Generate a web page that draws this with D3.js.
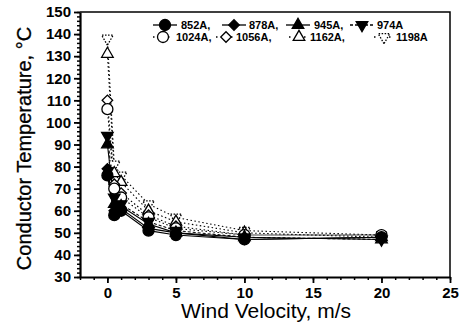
<!DOCTYPE html>
<html>
<head>
<meta charset="utf-8">
<script src="https://cdn.jsdelivr.net/npm/d3@7"></script>
<style>
  body { margin: 0; background: #fff; }
  svg { display: block; font-family: "Liberation Sans", Arial, sans-serif; }
</style>
</head>
<body>
<figure id="chart" style="margin:0"></figure>
<script>
// wind velocity (m/s)
const windSpeeds = [0, 0.5, 1, 3, 5, 10, 20];

// conductor temperature (deg C) per current
const seriesNames = ["852A", "878A", "945A", "974A", "1024A", "1056A", "1162A", "1198A"];
const t852 = [76, 58, 60, 51, 49, 47, 48];
const t878 = [79, 60, 61, 52, 50, 47, 48];
const t945 = [90, 63, 62, 54, 50, 48, 47];
const t974 = [94, 66, 63, 55, 51, 48, 47];
const t1024 = [106, 70, 66, 57, 52, 49, 49];
const t1056 = [110, 72, 68, 58, 53, 49, 49];
const t1162 = [131, 77, 73, 60, 55, 50, 48];
const t1198 = [138, 81, 76, 63, 57, 51, 49];
const seriesValues = [t852, t878, t945, t974, t1024, t1056, t1162, t1198];

const xTicks = [0, 5, 10, 15, 20, 25];
const yTicks = [30, 40, 50, 60, 70, 80, 90, 100, 110, 120, 130, 140, 150];

// marker + line look for each series
const styles = [
  { shape: d3.symbolCircle, fill: "#000", dash: null, rot: 0 },
  { shape: d3.symbolSquare, fill: "#000", dash: null, rot: 45 },
  { shape: d3.symbolTriangle, fill: "#000", dash: null, rot: 0 },
  { shape: d3.symbolTriangle, fill: "#000", dash: "3,2", rot: 180 },
  { shape: d3.symbolCircle, fill: "#fff", dash: "1.5,2.5", rot: 0 },
  { shape: d3.symbolSquare, fill: "#fff", dash: "1.5,2.5", rot: 45 },
  { shape: d3.symbolTriangle, fill: "#fff", dash: "1.5,2.5", rot: 0 },
  { shape: d3.symbolTriangle, fill: "#fff", dash: "1.5,2.5", rot: 180, dottedMarker: true }
];

const width = 459, height = 326;
const plot = { left: 80, right: 450, top: 12, bottom: 277 };

const svg = d3.select("figure#chart")
  .append("svg")
  .attr("width", width)
  .attr("height", height);

const x = d3.scaleLinear().domain([-2, 25]).range([plot.left, plot.right]);
const y = d3.scaleLinear().domain([30, 150]).range([plot.bottom, plot.top]);

// frame (top + right)
svg.append("path")
  .attr("d", `M${plot.left},${plot.top}H${plot.right}V${plot.bottom}`)
  .attr("fill", "none")
  .attr("stroke", "#000")
  .attr("stroke-width", 1.5);

// minor ticks
svg.append("g")
  .attr("transform", `translate(0,${plot.bottom})`)
  .call(d3.axisBottom(x).tickValues(d3.range(-2, 26, 1)).tickSize(3).tickFormat(""))
  .call(g => g.select(".domain").remove())
  .selectAll("line").attr("stroke-width", 1.5);

svg.append("g")
  .attr("transform", `translate(${plot.left},0)`)
  .call(d3.axisLeft(y).tickValues(d3.range(30, 151, 2)).tickSize(3).tickFormat(""))
  .call(g => g.select(".domain").remove())
  .selectAll("line").attr("stroke-width", 1.5);

// major ticks + labels
const xAxis = svg.append("g")
  .attr("transform", `translate(0,${plot.bottom})`)
  .call(d3.axisBottom(x).tickValues(xTicks).tickSize(6).tickSizeOuter(0).tickPadding(4));
xAxis.select(".domain").attr("stroke-width", 2.2);
xAxis.selectAll("line").attr("stroke-width", 1.8);
xAxis.selectAll("text")
  .attr("font-size", 15).attr("font-weight", "bold")
  .attr("font-family", "Liberation Sans, Arial, sans-serif");

const yAxis = svg.append("g")
  .attr("transform", `translate(${plot.left},0)`)
  .call(d3.axisLeft(y).tickValues(yTicks).tickSize(6).tickSizeOuter(0).tickPadding(3));
yAxis.select(".domain").attr("stroke-width", 2.2);
yAxis.selectAll("line").attr("stroke-width", 1.8);
yAxis.selectAll("text")
  .attr("font-size", 15).attr("font-weight", "bold")
  .attr("font-family", "Liberation Sans, Arial, sans-serif");

// axis titles
svg.append("text")
  .attr("x", (plot.left + plot.right) / 2 + 1)
  .attr("y", 318)
  .attr("text-anchor", "middle")
  .attr("font-size", 21)
  .text("Wind Velocity, m/s");

svg.append("text")
  .attr("transform", `translate(31,${(plot.top + plot.bottom) / 2 + 4}) rotate(-90)`)
  .attr("text-anchor", "middle")
  .attr("font-size", 20)
  .attr("stroke", "#000")
  .attr("stroke-width", 0.3)
  .text("Conductor Temperature, \u00B0C");

// lines
const line = d3.line()
  .x((d, i) => x(windSpeeds[i]))
  .y(d => y(d));

seriesValues.forEach((vals, s) => {
  svg.append("path")
    .datum(vals)
    .attr("d", line)
    .attr("fill", "none")
    .attr("stroke", "#000")
    .attr("stroke-width", 1.1)
    .attr("stroke-dasharray", styles[s].dash);
});

// markers
function marker(g, s, cx, cy) {
  const st = styles[s];
  const size = st.shape === d3.symbolCircle ? 95 : (st.shape === d3.symbolSquare ? 55 : 58);
  g.append("path")
    .attr("d", d3.symbol().type(st.shape).size(size)())
    .attr("transform", `translate(${cx},${cy}) rotate(${st.rot})`)
    .attr("fill", st.fill)
    .attr("stroke", "#000")
    .attr("stroke-width", 1.3)
    .attr("stroke-dasharray", st.dottedMarker ? "1.5,1.5" : null);
}

const marks = svg.append("g");
[7, 6, 5, 4, 3, 2, 1, 0].forEach(s => {
  seriesValues[s].forEach((v, i) => marker(marks, s, x(windSpeeds[i]), y(v)));
});

// legend
const legendItems = [
  { s: 0, cx: 165, row: 0, tx: 181 },
  { s: 1, cx: 234, row: 0, tx: 249 },
  { s: 2, cx: 298, row: 0, tx: 314 },
  { s: 3, cx: 362, row: 0, tx: 377 },
  { s: 4, cx: 163, row: 1, tx: 176 },
  { s: 5, cx: 226, row: 1, tx: 236 },
  { s: 6, cx: 299, row: 1, tx: 310 },
  { s: 7, cx: 384, row: 1, tx: 396 }
];
const legend = svg.append("g");
legendItems.forEach((it, k) => {
  const ly = it.row === 0 ? 25 : 37;
  const half = it.row === 0 ? 12 : 10;
  legend.append("line")
    .attr("x1", it.cx - half).attr("x2", it.cx + half)
    .attr("y1", ly).attr("y2", ly)
    .attr("stroke", "#000")
    .attr("stroke-width", 1.3)
    .attr("stroke-dasharray", it.row === 0 ? styles[it.s].dash : "1.5,6");
  marker(legend, it.s, it.cx, ly);
  legend.append("text")
    .attr("x", it.tx).attr("y", ly + 4)
    .attr("font-size", 11)
    .attr("font-weight", "bold")
    .text(seriesNames[it.s] + (k === 3 || k === 7 ? "" : ","));
});
</script>
</body>
</html>
